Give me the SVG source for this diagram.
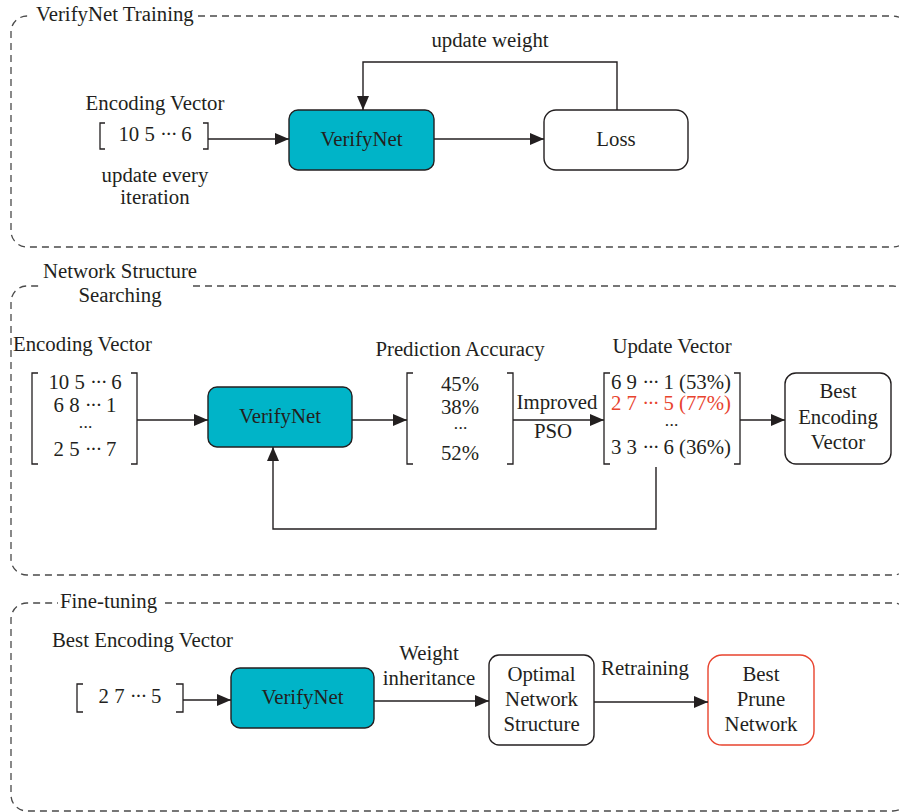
<svg xmlns="http://www.w3.org/2000/svg" width="899" height="812" viewBox="0 0 899 812">
  <defs>
    <marker id="arrow" markerUnits="userSpaceOnUse" markerWidth="14" markerHeight="12" viewBox="0 0 14 12" refX="14" refY="6" orient="auto">
      <path d="M0,0 L14,6 L0,12 z" fill="#231F20"/>
    </marker>
    <style>
      text { font-family: "Liberation Serif", "Times New Roman", serif; font-size: 20.8px; fill: #231F20; }
      .c { text-anchor: middle; }
      .red { fill: #E8432E; }
      .d { letter-spacing: -1.6px; }
      .dots { font-size: 17.5px; letter-spacing: -1.2px; }
      .frame { fill: none; stroke: #4a4a4a; stroke-width: 1.3; stroke-dasharray: 7 5; }
      .bracket { fill: none; stroke: #231F20; stroke-width: 1.3; }
      .net rect { fill: #00B4C8; stroke: #231F20; stroke-width: 1.4; }
      .plain rect { fill: #ffffff; stroke: #231F20; stroke-width: 1.4; }
      .best rect { fill: #ffffff; stroke: #E8432E; stroke-width: 1.4; }
      #connectors path { fill: none; stroke: #231F20; stroke-width: 1.4; marker-end: url(#arrow); }
    </style>
  </defs>

  <!-- stage frames (dashed, running off the right edge) -->
  <g id="stage-training">
    <path class="frame" d="M198,16 H893 A16,16 0 0 1 909,32 V231 A16,16 0 0 1 893,247 H27 A16,16 0 0 1 11,231 V32 A16,16 0 0 1 27,16 H32"/>
    <text x="36" y="21">VerifyNet Training</text>
  </g>
  <g id="stage-searching">
    <path class="frame" d="M193,286 H893 A16,16 0 0 1 909,302 V559 A16,16 0 0 1 893,575 H27 A16,16 0 0 1 11,559 V302 A16,16 0 0 1 27,286 H40"/>
    <text class="c" x="120" y="278">Network Structure</text>
    <text class="c" x="120" y="302">Searching</text>
  </g>
  <g id="stage-finetuning">
    <path class="frame" d="M165,603 H893 A16,16 0 0 1 909,619 V795 A16,16 0 0 1 893,811 H27 A16,16 0 0 1 11,795 V619 A16,16 0 0 1 27,603 H58"/>
    <text x="60" y="608">Fine-tuning</text>
  </g>

  <!-- VerifyNet training stage -->
  <g id="encoding-vector-1">
    <text class="c" x="155" y="110">Encoding Vector</text>
    <path class="bracket" d="M105,123 H100 V149 H105"/>
    <path class="bracket" d="M203,123 H208 V149 H203"/>
    <text class="c" x="155" y="141">10 5 <tspan class="d">···</tspan> 6</text>
    <text class="c" x="155" y="182">update every</text>
    <text class="c" x="155" y="204">iteration</text>
  </g>
  <g id="verifynet-1" class="net">
    <rect x="289" y="110" width="145" height="60" rx="9"/>
    <text class="c" x="361.5" y="146">VerifyNet</text>
  </g>
  <g id="loss" class="plain">
    <rect x="544" y="110" width="144" height="60" rx="12"/>
    <text class="c" x="616" y="146">Loss</text>
  </g>
  <g id="label-update-weight">
    <text class="c" x="490" y="47">update weight</text>
  </g>

  <!-- Network structure searching stage -->
  <g id="encoding-matrix">
    <text x="13" y="351">Encoding Vector</text>
    <path class="bracket" d="M38,373 H32 V464 H38"/>
    <path class="bracket" d="M131,373 H137 V464 H131"/>
    <text class="c" x="85" y="389">10 5 <tspan class="d">···</tspan> 6</text>
    <text class="c" x="85" y="412">6 8 <tspan class="d">···</tspan> 1</text>
    <text class="c dots" x="85" y="433">···</text>
    <text class="c" x="85" y="456">2 5 <tspan class="d">···</tspan> 7</text>
  </g>
  <g id="verifynet-2" class="net">
    <rect x="208" y="387" width="144" height="60" rx="9"/>
    <text class="c" x="280" y="423">VerifyNet</text>
  </g>
  <g id="prediction-accuracy">
    <text class="c" x="460" y="356">Prediction Accuracy</text>
    <path class="bracket" d="M413,373 H407 V464 H413"/>
    <path class="bracket" d="M507,373 H513 V464 H507"/>
    <text class="c" x="460" y="391">45%</text>
    <text class="c" x="460" y="414">38%</text>
    <text class="c dots" x="460" y="434">···</text>
    <text class="c" x="460" y="460">52%</text>
  </g>
  <g id="label-improved-pso">
    <text class="c" x="557" y="409">Improved</text>
    <text class="c" x="553" y="438">PSO</text>
  </g>
  <g id="update-vector">
    <text class="c" x="672" y="353">Update Vector</text>
    <path class="bracket" d="M610,373 H604 V464 H610"/>
    <path class="bracket" d="M734,373 H740 V464 H734"/>
    <text class="c" x="671" y="389">6 9 <tspan class="d">···</tspan> 1 (53%)</text>
    <text class="c red" x="671" y="410">2 7 <tspan class="d">···</tspan> 5 (77%)</text>
    <text class="c dots" x="671" y="431">···</text>
    <text class="c" x="671" y="454">3 3 <tspan class="d">···</tspan> 6 (36%)</text>
  </g>
  <g id="best-encoding-vector" class="plain">
    <rect x="785" y="373" width="106" height="91" rx="11"/>
    <text class="c" x="838" y="398">Best</text>
    <text class="c" x="838" y="424">Encoding</text>
    <text class="c" x="838" y="449">Vector</text>
  </g>

  <!-- Fine-tuning stage -->
  <g id="best-vector-input">
    <text x="52" y="647">Best Encoding Vector</text>
    <path class="bracket" d="M83,684 H77 V712 H83"/>
    <path class="bracket" d="M176,684 H183 V712 H176"/>
    <text class="c" x="130" y="703">2 7 <tspan class="d">···</tspan> 5</text>
  </g>
  <g id="verifynet-3" class="net">
    <rect x="231" y="668" width="143" height="60" rx="9"/>
    <text class="c" x="302.5" y="704">VerifyNet</text>
  </g>
  <g id="label-weight-inheritance">
    <text class="c" x="429" y="660">Weight</text>
    <text class="c" x="429" y="685">inheritance</text>
  </g>
  <g id="optimal-network" class="plain">
    <rect x="489" y="655" width="105" height="90" rx="10"/>
    <text class="c" x="541.5" y="681">Optimal</text>
    <text class="c" x="541.5" y="706">Network</text>
    <text class="c" x="541.5" y="731">Structure</text>
  </g>
  <g id="label-retraining">
    <text class="c" x="645" y="675">Retraining</text>
  </g>
  <g id="best-prune-network" class="best">
    <rect x="708" y="655" width="106" height="90" rx="14"/>
    <text class="c" x="761" y="681">Best</text>
    <text class="c" x="761" y="706">Prune</text>
    <text class="c" x="761" y="731">Network</text>
  </g>

  <!-- connectors -->
  <g id="connectors">
    <path d="M208,139 H289"/>
    <path d="M434,139 H544"/>
    <path d="M617,110 V62 H363 V110"/>
    <path d="M137,420 H208"/>
    <path d="M352,420 H407"/>
    <path d="M513,420 H604"/>
    <path d="M740,420 H785"/>
    <path d="M656,467 V529 H273 V447"/>
    <path d="M183,700 H231"/>
    <path d="M374,701 H489"/>
    <path d="M594,702 H708"/>
  </g>
</svg>
